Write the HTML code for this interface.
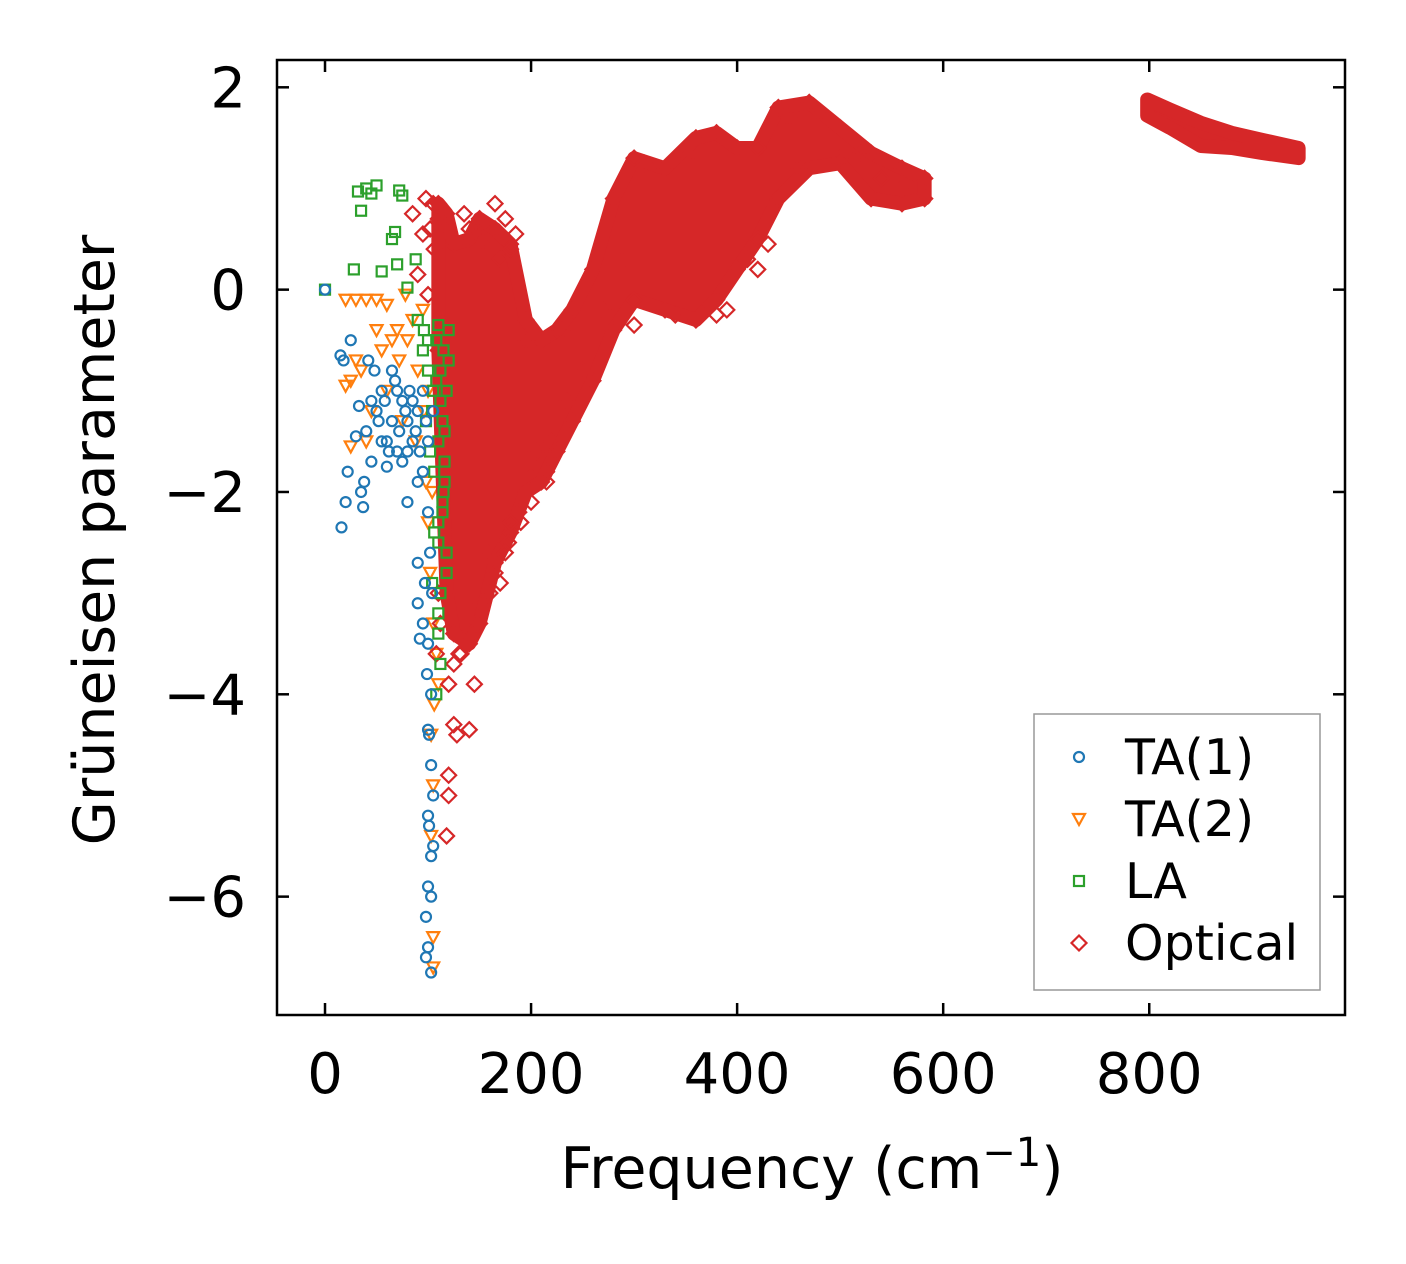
<!DOCTYPE html>
<html><head><meta charset="utf-8"><style>
html,body{margin:0;padding:0;background:#fff;}
svg{display:block;font-family:"DejaVu Sans","Liberation Sans",sans-serif;}
</style></head><body>
<svg id="chart" width="1406" height="1264" viewBox="0 0 1406 1264" xmlns="http://www.w3.org/2000/svg">
<rect x="0" y="0" width="1406" height="1264" fill="#fff"/>
<g id="marks"></g>
<g id="axes"></g>
<text transform="translate(114,540) rotate(-90)" text-anchor="middle" font-size="57">Grüneisen parameter</text>
<text x="812" y="1188" text-anchor="middle" font-size="57">Frequency (cm<tspan dy="-22" font-size="40">−1</tspan><tspan dy="22">)</tspan></text>
<g>
<rect x="1034" y="714" width="286" height="276" fill="#fff" stroke="#999" stroke-width="1.5"/>
<g id="legend-entries"></g>
</g>
</svg>
<script>
const xTicks=[0,200,400,600,800];
const yTicks=[2,0,-2,-4,-6];
// Optical band envelope
const optFreq=[110,118,125,140,150,165,180,195,210,225,240,260,280,300,330,360,380,400,420,440,470,500,530,560,582];
const optUpper=[0.85,0.75,0.45,0.5,0.7,0.6,0.45,-0.3,-0.5,-0.4,-0.2,0.2,0.9,1.3,1.2,1.5,1.55,1.4,1.4,1.8,1.85,1.6,1.35,1.2,1.1];
const optLower=[-0.6,-3.0,-3.4,-3.5,-3.3,-2.7,-2.4,-2.0,-1.9,-1.6,-1.3,-0.9,-0.4,-0.1,-0.2,-0.3,-0.1,0.2,0.5,0.9,1.2,1.25,0.9,0.85,0.9];
const opt2Freq=[798,820,850,880,910,945];
const opt2Upper=[1.88,1.78,1.65,1.55,1.48,1.4];
const opt2Lower=[1.72,1.6,1.42,1.4,1.35,1.3];
// scattered optical points
const optX=[98,105,110,115,85,95,90,100,120,118,120,125,140,145,128,110,120,150,165,175,185,195,215,230,135,140,155,160,170,180,200,220,250,270,290,310,350,370,390,410,430,450,480,520,560,575,108,112,125,132,138,146,152,158,165,178,188,205,235,300,340,380,420,460,500,540,130,142,160,175,190,200,215,180,170,102,106];
const optY=[0.9,0.85,0.7,0.65,0.75,0.55,0.15,-0.05,-5.0,-5.4,-4.8,-4.3,-4.35,-3.9,-4.4,-3.0,-3.9,0.7,0.85,0.7,0.55,-0.5,-1.8,-0.4,0.75,0.6,0.35,0.55,0.3,0.4,-1.85,-1.5,-0.8,-0.2,0.3,1.25,1.3,-0.1,-0.2,0.3,0.45,1.7,1.75,1.35,1.0,1.0,-3.6,-3.3,-3.7,-3.6,-3.5,-3.3,-3.1,-2.6,-2.8,-2.5,-2.2,-1.6,-1.1,-0.35,-0.25,-0.25,0.2,1.2,1.3,1.1,-3.6,-3.4,-3.0,-2.6,-2.3,-2.1,-1.9,-2.3,-2.9,0.6,0.4];
// TA(1)
const ta1X=[0,15,18,22,20,16,25,30,33,35,37,38,40,45,50,55,60,65,70,75,80,85,90,95,80,90,90,95,92,100,100,103,100,103,100,98,100,103,105,42,48,52,58,62,68,72,78,82,88,92,98,45,55,65,75,85,95,100,105,60,70,80,90,100,102,104,97,99,101,103,105,103,98,101];
const ta1Y=[0,-0.65,-0.7,-1.8,-2.1,-2.35,-0.5,-1.45,-1.15,-2.0,-2.15,-1.9,-1.4,-1.7,-1.2,-1.0,-1.5,-1.3,-1.6,-1.1,-1.3,-1.5,-1.2,-1.0,-2.1,-2.7,-3.1,-3.3,-3.45,-3.5,-4.35,-4.7,-5.2,-5.6,-5.9,-6.2,-6.5,-6.75,-5.0,-0.7,-0.8,-1.3,-1.1,-1.6,-0.9,-1.4,-1.2,-1.0,-1.4,-1.6,-1.3,-1.1,-1.5,-0.8,-1.7,-1.1,-1.8,-1.5,-1.2,-1.75,-1.0,-1.6,-1.9,-2.2,-2.6,-3.0,-2.9,-3.8,-4.4,-4.0,-5.5,-6.0,-6.6,-5.3];
// TA(2)
const ta2X=[20,30,40,50,60,78,50,65,25,20,25,30,40,80,90,100,100,105,103,105,103,105,105,55,70,85,95,35,45,75,88,98,102,108,110,60,72,96,104,106];
const ta2Y=[-0.1,-0.1,-0.1,-0.1,-0.15,-0.05,-0.4,-0.5,-0.9,-0.95,-1.55,-0.7,-1.5,-0.5,-0.8,-1.0,-2.3,-3.3,-4.4,-4.9,-5.4,-6.4,-6.7,-0.6,-0.4,-0.3,-0.2,-0.8,-1.2,-1.3,-1.5,-1.9,-2.8,-3.6,-3.9,-1.0,-0.7,-1.2,-2.0,-4.1];
// LA
const laX=[0,28,32,35,40,45,50,55,65,68,70,72,75,80,88,90,95,100,110,115,105,110,115,110,118,110,108,112,100,104,108,112,116,120,102,106,114,118,96,98,106,112,116,118,120,104,110,114,108,112,116,110,114];
const laY=[0,0.2,0.97,0.78,1.0,0.95,1.03,0.18,0.5,0.57,0.25,0.98,0.93,0.02,0.3,-0.3,-0.6,-0.5,-0.35,-0.6,-1.0,-1.5,-2.0,-2.5,-2.8,-3.2,-4.0,-3.7,-0.8,-1.2,-0.9,-1.1,-1.4,-0.4,-1.6,-1.8,-2.2,-2.6,-0.4,-1.3,-2.4,-3.0,-1.7,-1.0,-0.7,-2.9,-3.4,-2.1,-0.5,-0.8,-1.9,-2.3,-1.3];

const L=277,R=1345,T=60,B=1015;
const X0=-46.6,X1=990,Y0=-7.17,Y1=2.27;
const sx=v=>L+(v-X0)/(X1-X0)*(R-L);
const sy=v=>B-(v-Y0)/(Y1-Y0)*(B-T);
const NS="http://www.w3.org/2000/svg";
const marks=document.getElementById('marks');
const axes=document.getElementById('axes');
function mk(tag,attrs,parent){const e=document.createElementNS(NS,tag);for(const k in attrs)e.setAttribute(k,attrs[k]);parent.appendChild(e);return e;}
const C={ta1:'#1f77b4',ta2:'#ff7f0e',la:'#2ca02c',opt:'#d62728'};
function marker(type,cx,cy,parent){
  let e;
  if(type==='ta1'){e=mk('circle',{cx:cx,cy:cy,r:5,fill:'none',stroke:C.ta1,'stroke-width':2.2},parent);}
  else if(type==='ta2'){e=mk('path',{d:`M${cx-6},${cy-5}L${cx+6},${cy-5}L${cx},${cy+6}Z`,fill:'none',stroke:C.ta2,'stroke-width':2.2},parent);}
  else if(type==='la'){e=mk('rect',{x:cx-5,y:cy-5,width:10,height:10,fill:'none',stroke:C.la,'stroke-width':2.2},parent);}
  else {e=mk('path',{d:`M${cx},${cy-7.5}L${cx+7.5},${cy}L${cx},${cy+7.5}L${cx-7.5},${cy}Z`,fill:'none',stroke:C.opt,'stroke-width':2.2},parent);}
  return e;
}
function series(type,xs,ys,name){
  const g=mk('g',{},marks);
  
  
  for(let i=0;i<xs.length;i++){
    const m=marker(type,sx(xs[i]),sy(ys[i]),g);
    
    
  }
  return g;
}
function band(fs,up,lo,name){
  let d='';
  for(let i=0;i<fs.length;i++)d+=(i?'L':'M')+sx(fs[i])+','+sy(up[i]);
  for(let i=fs.length-1;i>=0;i--)d+='L'+sx(fs[i])+','+sy(lo[i]);
  d+='Z';
  const p=mk('path',{d:d,fill:C.opt,stroke:C.opt,'stroke-width':14,'stroke-linejoin':'round'},marks);
  
  
}
series('ta2',ta2X,ta2Y,'ta2-series');
band(optFreq,optUpper,optLower,'optical-band-low');
band(opt2Freq,opt2Upper,opt2Lower,'optical-band-high');
series('opt',optFreq,optUpper,'optical-upper-edge');
series('opt',optFreq,optLower,'optical-lower-edge');
series('opt',optX,optY,'optical-series');
series('la',laX,laY,'la-series');
series('ta1',ta1X,ta1Y,'ta1-series');

// axes frame
const fr=mk('rect',{x:L,y:T,width:R-L,height:B-T,fill:'none',stroke:'#000','stroke-width':2.5},axes);


xTicks.forEach(v=>{
  const x=sx(v);
  mk('line',{x1:x,y1:B,x2:x,y2:B-12,stroke:'#000','stroke-width':2.5},axes);
  mk('line',{x1:x,y1:T,x2:x,y2:T+12,stroke:'#000','stroke-width':2.5},axes);
  const t=mk('text',{x:x,y:1093,'text-anchor':'middle','font-size':56},axes);
  t.textContent=String(v);
  
  
});
yTicks.forEach(v=>{
  const y=sy(v);
  mk('line',{x1:L,y1:y,x2:L+12,y2:y,stroke:'#000','stroke-width':2.5},axes);
  mk('line',{x1:R,y1:y,x2:R-12,y2:y,stroke:'#000','stroke-width':2.5},axes);
  const t=mk('text',{x:246,y:y+20,'text-anchor':'end','font-size':56},axes);
  t.textContent=(v<0?'−':'')+Math.abs(v);
  
  
});
// legend
const leg=document.getElementById('legend-entries');
const legNames=['TA(1)','TA(2)','LA','Optical'];
const legTypes=['ta1','ta2','la','opt'];
legNames.forEach((n,i)=>{
  const y=757+i*62;
  const g=mk('g',{},leg);
  
  
  marker(legTypes[i],1079,y,g);
  const t=mk('text',{x:1125,y:y+17,'font-size':49},g);
  t.textContent=n;
});
</script>
</body></html>
